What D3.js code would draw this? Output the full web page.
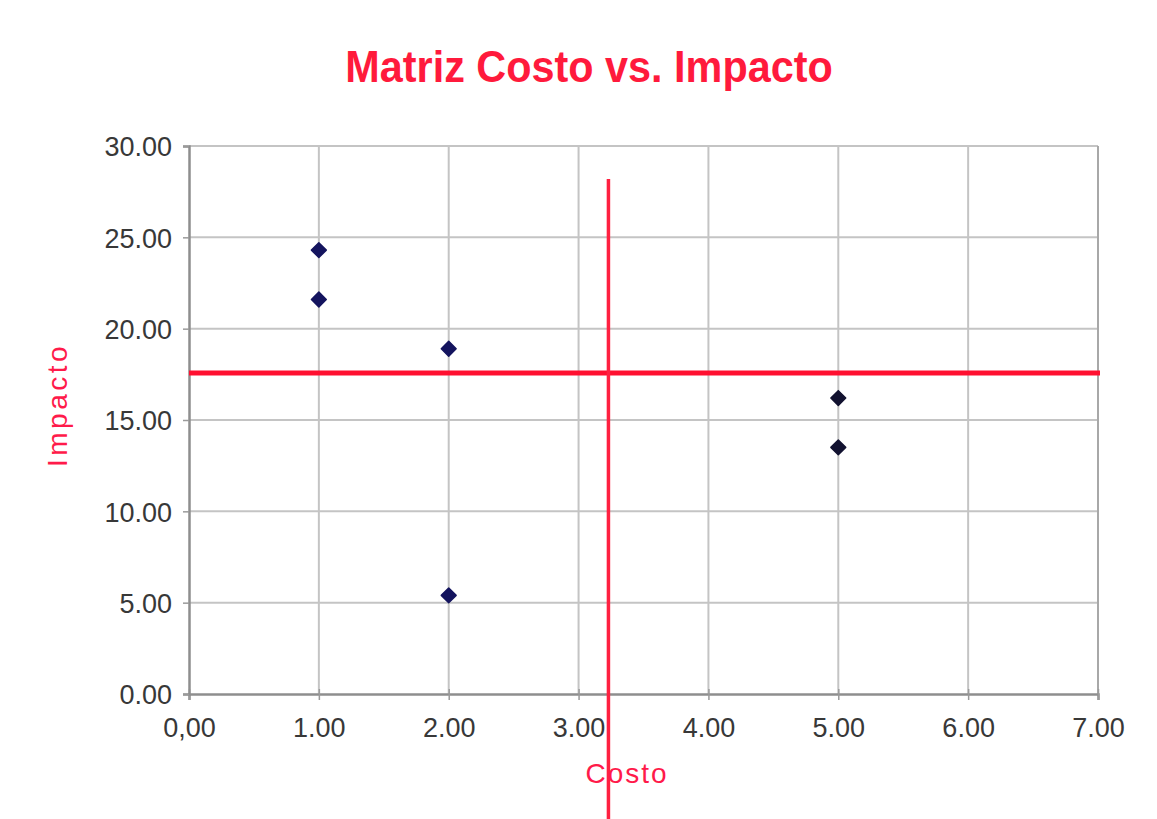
<!DOCTYPE html>
<html>
<head>
<meta charset="utf-8">
<script src="https://cdn.jsdelivr.net/npm/d3@7"></script>
<style>
  html, body { margin: 0; padding: 0; background: #ffffff; }
  svg { display: block; }
</style>
</head>
<body>
<svg id="chart" width="1157" height="819"></svg>
<script>
// ---- data ----
const costo   = [1, 1, 2, 5, 5, 2];
const impacto = [24.3, 21.6, 18.9, 16.2, 13.5, 5.4];
const xTickValues = [0, 1, 2, 3, 4, 5, 6, 7];
const xTickLabels = ["0,00", "1.00", "2.00", "3.00", "4.00", "5.00", "6.00", "7.00"];
const yTickValues = [0, 5, 10, 15, 20, 25, 30];
const yTickLabels = ["0.00", "5.00", "10.00", "15.00", "20.00", "25.00", "30.00"];
const promedioCosto = 3.23;     // vertical red line
const promedioImpacto = 17.57;  // horizontal red line
const vLineTop = 28.2;

(function () {
const svg = d3.select("#chart");
const pLeft = 189, pRight = 1098, pTop = 146, pBottom = 694;
const FONT = "Liberation Sans, Arial, sans-serif";

const x = d3.scaleLinear().domain([0, 7]).range([pLeft, pRight]);
const y = d3.scaleLinear().domain([0, 30]).range([pBottom, pTop]);

// gridlines
svg.append("g").selectAll("line").data(xTickValues.slice(1)).join("line")
  .attr("x1", d => x(d)).attr("x2", d => x(d))
  .attr("y1", pTop).attr("y2", pBottom)
  .attr("stroke", "#c4c4c4").attr("stroke-width", 2);
svg.append("g").selectAll("line").data(yTickValues.slice(1)).join("line")
  .attr("x1", pLeft).attr("x2", pRight)
  .attr("y1", d => y(d)).attr("y2", d => y(d))
  .attr("stroke", "#c4c4c4").attr("stroke-width", 2);

// plot border right
svg.append("line").attr("x1", pRight).attr("x2", pRight).attr("y1", pTop).attr("y2", pBottom)
  .attr("stroke", "#a8a8a8").attr("stroke-width", 2);

// axes
const xAxis = d3.axisBottom(x).tickValues(xTickValues)
  .tickFormat((d, i) => xTickLabels[i]).tickSize(6).tickPadding(18);
const gx = svg.append("g").attr("transform", `translate(0,${pBottom})`).call(xAxis);
gx.select(".domain").attr("stroke", "#8e8e8e").attr("stroke-width", 2.5);
gx.selectAll(".tick line").attr("stroke", "#9a9a9a").attr("stroke-width", 1.5).attr("y1", -5);
gx.selectAll(".tick text").attr("font-family", FONT)
  .attr("font-size", 27).attr("fill", "#383838");

const yAxis = d3.axisLeft(y).tickValues(yTickValues)
  .tickFormat((d, i) => yTickLabels[i]).tickSize(6).tickPadding(11);
const gy = svg.append("g").attr("transform", `translate(${pLeft},0)`).call(yAxis);
gy.select(".domain").attr("stroke", "#8e8e8e").attr("stroke-width", 2.5);
gy.selectAll(".tick line").attr("stroke", "#9a9a9a").attr("stroke-width", 1.5);
gy.selectAll(".tick text").attr("font-family", FONT)
  .attr("font-size", 27).attr("fill", "#383838").attr("dy", "0.36em");

// red reference lines
svg.append("line")
  .attr("x1", x(0)).attr("x2", x(7) + 2)
  .attr("y1", y(promedioImpacto)).attr("y2", y(promedioImpacto))
  .attr("stroke", "#ff1030").attr("stroke-width", 5);
svg.append("line")
  .attr("x1", x(promedioCosto)).attr("x2", x(promedioCosto))
  .attr("y1", y(vLineTop)).attr("y2", 819)
  .attr("stroke", "#ff2040").attr("stroke-width", 3.5);

// points
const diamond = d3.symbol().type(d3.symbolDiamond2).size(140);
svg.append("g").selectAll("path").data(costo.map((c, i) => [c, impacto[i]])).join("path")
  .attr("d", diamond)
  .attr("transform", d => `translate(${x(d[0])},${y(d[1])})`)
  .attr("fill", d => d[0] === 5 ? "#121230" : "#14145e")
  .attr("stroke", d => d[0] === 5 ? "#121230" : "#14145e")
  .attr("stroke-width", 1.5).attr("stroke-linejoin", "round");

// titles
svg.append("text").attr("transform", "translate(589,82) scale(0.92,1)").attr("text-anchor", "middle")
  .attr("font-family", FONT).attr("font-weight", "bold")
  .attr("font-size", 45).attr("fill", "#ff1a3c").text("Matriz Costo vs. Impacto");
svg.append("text").attr("x", 627).attr("y", 783).attr("text-anchor", "middle")
  .attr("font-family", FONT).attr("letter-spacing", 2)
  .attr("font-size", 28).attr("fill", "#ff1a4a").text("Costo");
svg.append("text").attr("transform", "translate(67,405) rotate(-90)").attr("text-anchor", "middle")
  .attr("font-family", FONT).attr("letter-spacing", 3.5)
  .attr("font-size", 28).attr("fill", "#ff1a4a").text("Impacto");
})();
</script>
</body>
</html>
